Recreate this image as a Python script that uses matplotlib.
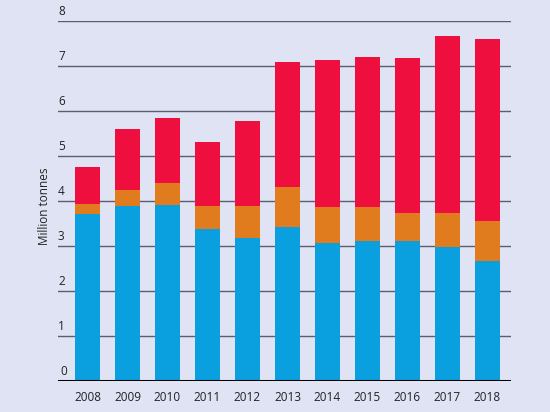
import numpy as np
import matplotlib
matplotlib.use('Agg')
import matplotlib.pyplot as plt

years = ['2008', '2009', '2010', '2011', '2012', '2013', '2014', '2015', '2016', '2017', '2018']
blue = [3.72, 3.90, 3.91, 3.38, 3.18, 3.44, 3.08, 3.12, 3.12, 2.99, 2.68]
orange_top = [3.95, 4.25, 4.41, 3.90, 3.90, 4.32, 3.88, 3.88, 3.75, 3.75, 3.56]
total = [4.77, 5.60, 5.85, 5.32, 5.79, 7.10, 7.14, 7.21, 7.18, 7.67, 7.61]
yticks = [0, 1, 2, 3, 4, 5, 6, 7, 8]

orange = np.array(orange_top) - np.array(blue)
red = np.array(total) - np.array(orange_top)

bg = '#dfe3f3'
plt.rcParams['font.family'] = ['Open Sans', 'DejaVu Sans']

fig = plt.figure(figsize=(5.5, 4.12), dpi=100, facecolor=bg)
ax = fig.add_axes([58/550, 30.7/412, 453/550, 360/412], facecolor=bg)

x = np.arange(len(years))
w = 0.625
ax.bar(x, blue, w, color='#0aa0e0', zorder=3)
ax.bar(x, orange, w, bottom=blue, color='#e07b1e', zorder=3)
ax.bar(x, red, w, bottom=orange_top, color='#ef0f3e', zorder=3)

for v in yticks[1:]:
    ax.axhline(v, color='#5a5e6e', lw=1, zorder=1)
    ax.text(-0.7375, v + 0.08, str(v), fontsize=8.5, color='#222222',
            ha='left', va='bottom', zorder=4)
ax.text(-0.7375 + 0.05, 0.08, '0', fontsize=8.5, color='#222222',
        ha='left', va='bottom', zorder=4)
ax.axhline(0, color='black', lw=2.2, zorder=5)

ax.set_xlim(-0.7375, 10.59)
ax.set_ylim(0, 8)
ax.set_xticks(x)
ax.set_xticklabels(years, fontsize=8.5, color='#222222')
ax.tick_params(axis='x', length=0, pad=7)
ax.set_yticks([])
for s in ax.spines.values():
    s.set_visible(False)

fig.text(44/550, 0.5, 'Million tonnes', rotation=90, fontsize=8.5,
         color='#222222', ha='center', va='center')

fig.savefig('out.png', dpi=100, facecolor=bg)
